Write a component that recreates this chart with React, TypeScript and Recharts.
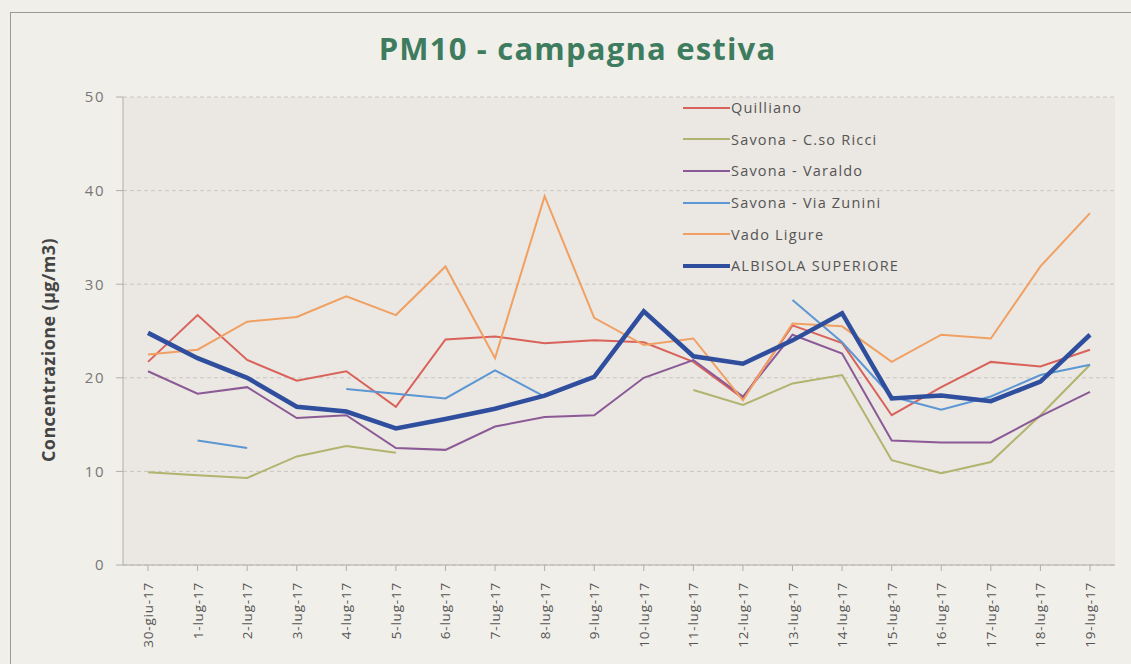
import React from 'react';
import { LineChart, Line, XAxis, YAxis, CartesianGrid } from 'recharts';

// date labels on the category axis
const days = [
  '30-giu-17', '1-lug-17', '2-lug-17', '3-lug-17', '4-lug-17', '5-lug-17', '6-lug-17',
  '7-lug-17', '8-lug-17', '9-lug-17', '10-lug-17', '11-lug-17', '12-lug-17', '13-lug-17',
  '14-lug-17', '15-lug-17', '16-lug-17', '17-lug-17', '18-lug-17', '19-lug-17',
];

// PM10 daily values (µg/m3), null where the station has no data
const quilliano = [21.7, 26.7, 21.9, 19.7, 20.7, 16.9, 24.1, 24.4, 23.7, 24.0, 23.8, 21.7, 17.8, 25.6, 23.7, 16.0, 19.0, 21.7, 21.2, 23.0];
const corsoRicci = [9.9, 9.6, 9.3, 11.6, 12.7, 12.0, null, null, null, null, null, 18.7, 17.1, 19.4, 20.3, 11.2, 9.8, 11.0, 16.0, 21.4];
const varaldo = [20.7, 18.3, 19.0, 15.7, 16.0, 12.5, 12.3, 14.8, 15.8, 16.0, 20.0, 21.9, 18.0, 24.6, 22.6, 13.3, 13.1, 13.1, 15.9, 18.5];
const viaZunini = [null, 13.3, 12.5, null, 18.8, 18.3, 17.8, 20.8, 18.0, null, null, null, null, 28.3, 23.8, 18.0, 16.6, 18.0, 20.3, 21.4];
const vadoLigure = [22.5, 23.0, 26.0, 26.5, 28.7, 26.7, 31.9, 22.1, 39.4, 26.4, 23.5, 24.2, 17.6, 25.8, 25.5, 21.7, 24.6, 24.2, 31.9, 37.6];
const albisola = [24.8, 22.1, 20.0, 16.9, 16.4, 14.6, 15.6, 16.7, 18.1, 20.1, 27.1, 22.3, 21.5, 24.0, 26.9, 17.8, 18.1, 17.5, 19.6, 24.6];

const yTicks = [0, 10, 20, 30, 40, 50];

const series = [
  { key: 'quilliano', name: 'Quilliano', color: '#d9625a', width: 2 },
  { key: 'corsoRicci', name: 'Savona - C.so Ricci', color: '#b1b46e', width: 2 },
  { key: 'varaldo', name: 'Savona - Varaldo', color: '#8b5a96', width: 2 },
  { key: 'viaZunini', name: 'Savona - Via Zunini', color: '#5c97d4', width: 2 },
  { key: 'vadoLigure', name: 'Vado Ligure', color: '#f0a062', width: 2 },
  { key: 'albisola', name: 'ALBISOLA SUPERIORE', color: '#2f4e9e', width: 4.5 },
];

const data = days.map((d, i) => ({
  day: d,
  quilliano: quilliano[i],
  corsoRicci: corsoRicci[i],
  varaldo: varaldo[i],
  viaZunini: viaZunini[i],
  vadoLigure: vadoLigure[i],
  albisola: albisola[i],
}));

const font = '"Open Sans", "Noto Sans", sans-serif';

function DayTick({ x, y, payload }: any) {
  return (
    <text
      x={x}
      y={y + 9}
      transform={`rotate(-90 ${x} ${y + 9})`}
      textAnchor="end"
      dominantBaseline="central"
      fontSize={13.5}
      letterSpacing={0.8}
      fill="#555"
      fontFamily={font}
    >
      {payload.value}
    </text>
  );
}

// legend drawn as an overlay so it takes no room from the plot
function LegendBox() {
  return (
    <div style={{ position: 'absolute', left: 683, top: 92, fontFamily: font, fontSize: 14.5, letterSpacing: 1.2, color: '#555' }}>
      {series.map((s) => (
        <div key={s.key} style={{ display: 'flex', alignItems: 'center', height: 31.6 }}>
          <div style={{ width: 47, height: s.width, background: s.color, marginRight: 1 }} />
          <span>{s.name}</span>
        </div>
      ))}
    </div>
  );
}

export default function App() {
  return (
    <div style={{ position: 'absolute', left: 0, top: 0, width: 1131, height: 664, background: '#f1efe9', overflow: 'hidden' }}>
      <div style={{ position: 'absolute', left: 10, top: 12, width: 1140, height: 680, border: '1.5px solid #9a9a98' }} />
      <div
        style={{
          position: 'absolute', left: 0, width: 1131, top: 27, textAlign: 'center',
          paddingLeft: 24, boxSizing: 'border-box', letterSpacing: 1.2,
          fontFamily: font, fontWeight: 700, fontSize: 31, color: '#3d7c5e',
        }}
      >
        PM10 - campagna estiva
      </div>
      <div
        style={{
          position: 'absolute', left: 48, top: 350, transform: 'translate(-50%, -50%) rotate(-90deg)',
          whiteSpace: 'nowrap', fontFamily: font, fontWeight: 700, fontSize: 18, letterSpacing: 0.4, color: '#444',
        }}
      >
        Concentrazione (µg/m3)
      </div>
      <div style={{ position: 'absolute', left: 0, top: 0 }}>
        <LineChart width={1131} height={664} data={data} margin={{ top: 97, right: 16, bottom: 0, left: 0 }}>
          <CartesianGrid vertical={false} stroke="#c9c6c2" strokeDasharray="4 3" fill="#ebe7e2" />
          <XAxis
            dataKey="day"
            interval={0}
            height={99}
            padding={{ left: 25, right: 25 }}
            tick={<DayTick />}
            tickLine={{ stroke: '#b0aeaa' }}
            axisLine={{ stroke: '#b0aeaa' }}
          />
          <YAxis
            domain={[0, 50]}
            ticks={yTicks}
            width={123}
            tick={{ fontSize: 15, fill: '#777', fontFamily: font, letterSpacing: 1.5 }}
            tickLine={{ stroke: '#b0aeaa' }}
            axisLine={{ stroke: '#b0aeaa' }}
            tickSize={7}
            tickMargin={11}
          />
          {series.map((s) => (
            <Line
              key={s.key}
              type="linear"
              dataKey={s.key}
              name={s.name}
              stroke={s.color}
              strokeWidth={s.width}
              dot={false}
              isAnimationActive={false}
            />
          ))}
        </LineChart>
      </div>
      <LegendBox />
    </div>
  );
}
